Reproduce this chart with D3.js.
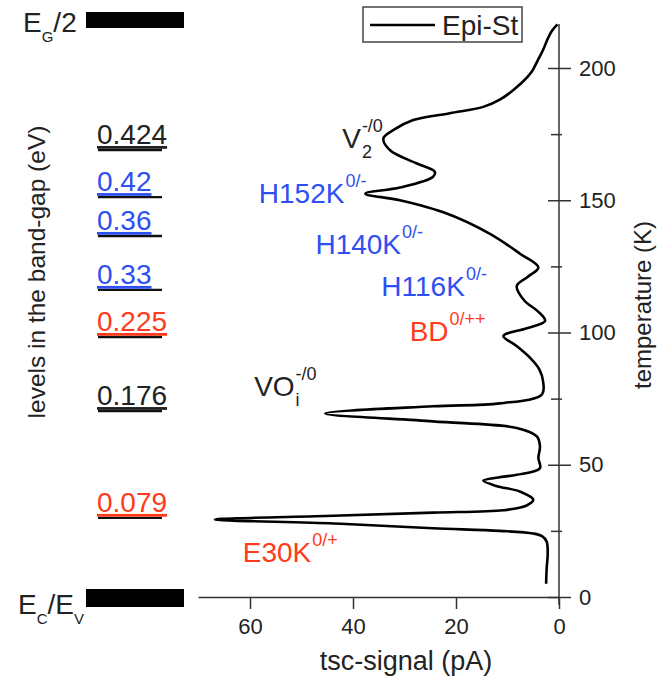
<!DOCTYPE html>
<html>
<head>
<meta charset="utf-8">
<script src="https://cdn.jsdelivr.net/npm/d3@7"></script>
<style>
  body { margin: 0; background: #fff; }
  text { font-family: "Liberation Sans", Arial, sans-serif; }
</style>
</head>
<body>
<div id="d3-container"></div>
<script>
const width = 668;
const height = 678;

const blue = "#2e4ff2";
const red = "#ff3b1c";

// TSC spectrum: temperature (K) and signal (pA)
const temps = [5, 10.7, 16, 21, 23, 24, 25, 26, 27.8, 29.3, 30.7, 31.9, 32.8, 34.5, 36.8, 39.8, 42, 44, 45.2, 46.2, 48.7,
  52.5, 57, 60.7, 63.9, 66.4, 69.4, 72.1, 73.2, 76.6, 81.6, 86, 90.4, 95, 98.7, 101.5, 104.4, 108, 112, 117.6, 121, 124.6,
  129.7, 137.3, 145, 150, 152.5, 154.8, 158.8, 160.7, 163.9, 168.9, 173.4, 176.5, 180.3, 182.9, 185.3, 188, 194.3, 198.6,
  203, 206.8, 211, 214, 216.5];
const signal = [2.5, 2.4, 2.2, 2.4, 3.3, 5.0, 11.5, 24.5, 43.8, 66.8, 43.8, 24.5, 10.8, 6.4, 5.0, 7.5, 12.2, 14.7, 11.8, 8.2, 3.7,
  4.0, 3.7, 4.3, 8.2, 24.5, 45.4, 24.5, 11.5, 3.3, 3.1, 3.8, 5.6, 8.3, 10.8, 6.4, 2.7, 4.1, 6.7, 8.2, 6.1, 4.0,
  7.5, 13.4, 21.8, 30.9, 37.6, 30.9, 24.5, 24.1, 27.6, 32.8, 34.1, 32.2, 28.3, 21.2, 14.7, 11.5, 7.3, 5.3,
  4.1, 3.1, 2.2, 1.4, 0.3];

// energy levels in the band gap, placed at the temperature of their peak
const levelLabels = ["0.424", "0.42", "0.36", "0.33", "0.225", "0.176", "0.079"];
const levelTemps = [169, 151.2, 136.5, 116.1, 98.3, 70.3, 29.9];
const levelColors = ["#222", blue, blue, blue, red, "#222", red];

// defect annotations (anchor in data units: signal s, temperature t)
const defects = [
  { base: "V", sub: "2", sup: "-/0", t: 169.6, s: 42.1, color: "#222" },
  { base: "H152K", sub: "", sup: "0/-", t: 148.8, s: 58.3, color: blue },
  { base: "H140K", sub: "", sup: "0/-", t: 129.8, s: 47.3, color: blue },
  { base: "H116K", sub: "", sup: "0/-", t: 113.9, s: 34.5, color: blue },
  { base: "BD", sub: "", sup: "0/++", t: 96.8, s: 29.0, color: red },
  { base: "VO", sub: "i", sup: "-/0", t: 76, s: 59.2, color: "#222" },
  { base: "E30K", sub: "", sup: "0/+", t: 13.2, s: 61.4, color: red }
];

const xTicks = [0, 20, 40, 60];
const yTicks = [0, 50, 100, 150, 200];
const yMinorTicks = [25, 75, 125, 175];

const svg = d3.select('#d3-container')
  .append('svg')
  .attr('width', width)
  .attr('height', height);

const x = d3.scaleLinear()
  .domain([0, 70.1])
  .range([559, 198]);

const y = d3.scaleLinear()
  .domain([0, 200])
  .range([597, 68]);

// Axes
svg.append("g")
  .attr("transform", `translate(0,${y(0)})`)
  .call(d3.axisBottom(x).tickValues(xTicks).tickSize(12).tickSizeOuter(0).tickPadding(9))
  .call(g => g.selectAll("text").attr("font-size", "22px").attr("fill", "#222"))
  .call(g => g.selectAll("line, path").attr("stroke", "#333").attr("stroke-width", 1.5));

const yAxisG = svg.append("g").attr("transform", `translate(${x(0)},0)`);
yAxisG.append("line")
  .attr("x1", 0).attr("x2", 0)
  .attr("y1", y(216.6)).attr("y2", y(-3))
  .attr("stroke", "#333").attr("stroke-width", 1.5);

yAxisG.append("g")
  .call(d3.axisRight(y).tickValues(yTicks).tickSize(12).tickPadding(8))
  .call(g => g.select(".domain").remove())
  .call(g => g.selectAll("text").attr("font-size", "22px").attr("fill", "#222"))
  .call(g => g.selectAll("line").attr("stroke", "#333").attr("stroke-width", 1.5));

yAxisG.append("g")
  .call(d3.axisLeft(y).tickValues(yTicks).tickSize(11).tickFormat(""))
  .call(g => g.select(".domain").remove())
  .call(g => g.selectAll("line").attr("stroke", "#333").attr("stroke-width", 1.5));

yAxisG.append("g")
  .call(d3.axisLeft(y).tickValues(yMinorTicks).tickSize(8).tickFormat(""))
  .call(g => g.select(".domain").remove())
  .call(g => g.selectAll("line").attr("stroke", "#333").attr("stroke-width", 1.5));

yAxisG.append("g")
  .call(d3.axisRight(y).tickValues(yMinorTicks).tickSize(3).tickFormat(""))
  .call(g => g.select(".domain").remove())
  .call(g => g.selectAll("line").attr("stroke", "#333").attr("stroke-width", 1.5));

// Axis titles
svg.append("text")
  .attr("x", 406).attr("y", 670)
  .attr("text-anchor", "middle")
  .attr("font-size", "27px").attr("fill", "#222")
  .text("tsc-signal (pA)");

svg.append("text")
  .attr("transform", `translate(651,305) rotate(-90)`)
  .attr("text-anchor", "middle")
  .attr("font-size", "24px").attr("fill", "#222")
  .text("temperature (K)");

svg.append("text")
  .attr("transform", `translate(45,272) rotate(-90)`)
  .attr("text-anchor", "middle")
  .attr("font-size", "24.5px").attr("fill", "#222")
  .text("levels in the band-gap (eV)");

// Curve
const line = d3.line()
  .x(d => x(d[1]))
  .y(d => y(d[0]))
  .curve(d3.curveCatmullRom.alpha(0.5));

svg.append("path")
  .datum(temps.map((t, i) => [t, signal[i]]))
  .attr("d", line)
  .attr("fill", "none")
  .attr("stroke", "#000")
  .attr("stroke-width", 2.6)
  .attr("stroke-linejoin", "round");

// Legend
svg.append("rect")
  .attr("x", 363).attr("y", 7).attr("width", 159).attr("height", 35)
  .attr("fill", "#fff").attr("stroke", "#444").attr("stroke-width", 1.5);
svg.append("line")
  .attr("x1", 370).attr("x2", 435).attr("y1", 25).attr("y2", 25)
  .attr("stroke", "#000").attr("stroke-width", 2.6);
svg.append("text")
  .attr("x", 442).attr("y", 35)
  .attr("font-size", "28px").attr("fill", "#222")
  .text("Epi-St");

// Band edges
svg.append("rect").attr("x", 86).attr("y", 12).attr("width", 98).attr("height", 16).attr("fill", "#000");
svg.append("rect").attr("x", 86).attr("y", 589).attr("width", 98).attr("height", 18).attr("fill", "#000");

const eg = svg.append("text").attr("x", 23).attr("y", 32).attr("font-size", "28px").attr("fill", "#222");
eg.append("tspan").text("E");
eg.append("tspan").attr("font-size", "15px").attr("dy", 10).text("G");
eg.append("tspan").attr("dy", -10).text("/2");

const ec = svg.append("text").attr("x", 18).attr("y", 614).attr("font-size", "28px").attr("fill", "#222");
ec.append("tspan").text("E");
ec.append("tspan").attr("font-size", "15px").attr("dy", 10).text("C");
ec.append("tspan").attr("dy", -10).text("/E");
ec.append("tspan").attr("font-size", "15px").attr("dy", 10).text("V");

// Energy levels
const levels = svg.selectAll("g.level")
  .data(levelLabels)
  .enter()
  .append("g")
  .attr("class", "level");

levels.append("line")
  .attr("x1", 98).attr("x2", 162)
  .attr("y1", (d, i) => y(levelTemps[i]))
  .attr("y2", (d, i) => y(levelTemps[i]))
  .attr("stroke", "#111").attr("stroke-width", 2.4);

levels.append("text")
  .attr("x", 97)
  .attr("y", (d, i) => y(levelTemps[i]) - 6)
  .attr("font-size", "28px")
  .attr("fill", (d, i) => levelColors[i])
  .attr("text-decoration", "underline")
  .text(d => d);

// Defect labels
defects.forEach(d => {
  const px = x(d.s), py = y(d.t);
  const base = svg.append("text")
    .attr("x", px).attr("y", py)
    .attr("font-size", "28px").attr("fill", d.color)
    .text(d.base);
  const w = base.node().getComputedTextLength();
  if (d.sub) {
    svg.append("text")
      .attr("x", px + w + 1).attr("y", py + 10)
      .attr("font-size", "18px").attr("fill", d.color)
      .text(d.sub);
  }
  svg.append("text")
    .attr("x", px + w + 1).attr("y", py - 16)
    .attr("font-size", "18px").attr("fill", d.color)
    .text(d.sup);
});
</script>
</body>
</html>
